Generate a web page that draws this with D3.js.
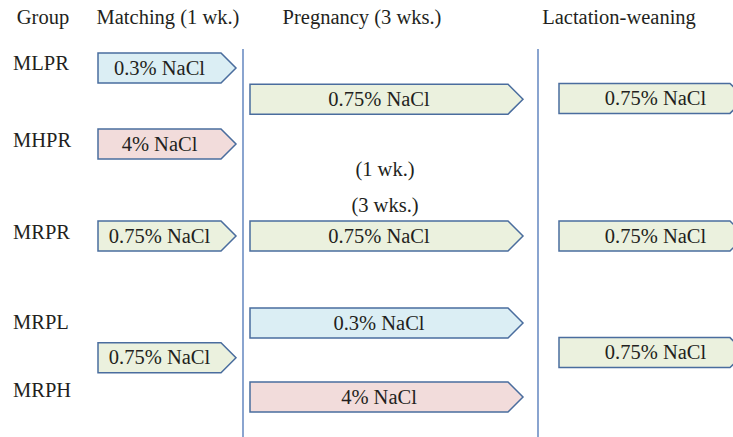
<!DOCTYPE html>
<html>
<head>
<meta charset="utf-8">
<script src="https://cdn.jsdelivr.net/npm/d3@7"></script>
<style>
  body { margin: 0; background: #fff; }
</style>
</head>
<body>
<svg width="733" height="437"></svg>
<script>
// groups and phase headers
var groups = ["MLPR", "MHPR", "MRPR", "MRPL", "MRPH"];
var headers = ["Group", "Matching (1 wk.)", "Pregnancy (3 wks.)", "Lactation-weaning"];

// NaCl (%) given in each phase, and which groups share that arrow
var matchingNaCl = [0.3, 4, 0.75, 0.75];
var matchingRows = [["MLPR"], ["MHPR"], ["MRPR"], ["MRPL", "MRPH"]];
var pregnancyNaCl = [0.75, 0.75, 0.3, 4];
var pregnancyRows = [["MLPR", "MHPR"], ["MRPR"], ["MRPL"], ["MRPH"]];
var lactationNaCl = [0.75, 0.75, 0.75];
var lactationRows = [["MLPR", "MHPR"], ["MRPR"], ["MRPL", "MRPH"]];

var durationNotes = ["(1 wk.)", "(3 wks.)"];

var svg = d3.select("svg")
    .attr("font-family", "'Liberation Serif', 'Times New Roman', serif")
    .attr("font-size", 20.5)
    .attr("fill", "#231f20"),
  width = +svg.attr("width"),
  height = +svg.attr("height");

// layout
var y = d3.scaleOrdinal().domain(groups).range([68, 144, 236, 323, 397]);
var color = d3.scaleOrdinal().domain([0.3, 0.75, 4]).range(["#dbeef4", "#ebf1de", "#f2dcdb"]);

var cols = [
  {name: "Matching", x0: 98, x1: 221, textDx: 0, frac: 0.47, naCl: matchingNaCl, rows: matchingRows},
  {name: "Pregnancy", x0: 250, x1: 508, textDx: 0, frac: 0.41, naCl: pregnancyNaCl, rows: pregnancyRows},
  {name: "Lactation", x0: 559, x1: 730, textDx: 11, frac: 0.4, naCl: lactationNaCl, rows: lactationRows}
];
var tip = 15, half = 15;

var arrows = [];
cols.forEach(function(c) {
  c.naCl.forEach(function(v, i) {
    var r = c.rows[i];
    var a = y(r[0]), b = y(r[r.length - 1]);
    arrows.push({col: c, value: v, cy: r.length > 1 ? a + (b - a) * c.frac : a});
  });
});

// headers
var headerX = [43, 168, 362, 619];
svg.selectAll(".header")
  .data(headers)
  .enter().append("text")
  .attr("class", "header")
  .attr("x", function(d, i) { return headerX[i]; })
  .attr("y", 24)
  .attr("text-anchor", "middle")
  .text(function(d) { return d; });

// phase dividers
svg.selectAll(".divider")
  .data([243, 538])
  .enter().append("line")
  .attr("class", "divider")
  .attr("x1", function(d) { return d; })
  .attr("x2", function(d) { return d; })
  .attr("y1", 49)
  .attr("y2", height)
  .attr("stroke", "#6d8ec4")
  .attr("stroke-width", 1.6);

// group labels
var labelDy = [2, 3, 3, 6, 0];
svg.selectAll(".group")
  .data(groups)
  .enter().append("text")
  .attr("class", "group")
  .attr("x", 13)
  .attr("y", function(d, i) { return y(d) + labelDy[i]; })
  .text(function(d) { return d; });

// arrows
var arrow = svg.selectAll(".arrow")
  .data(arrows)
  .enter().append("g")
  .attr("class", "arrow");

arrow.append("path")
  .attr("d", function(d) {
    var c = d.col;
    return "M" + c.x0 + "," + (d.cy - half)
      + "H" + c.x1
      + "L" + (c.x1 + tip) + "," + d.cy
      + "L" + c.x1 + "," + (d.cy + half)
      + "H" + c.x0 + "Z";
  })
  .attr("fill", function(d) { return color(d.value); })
  .attr("stroke", "#4a6d9e")
  .attr("stroke-width", 1.5);

arrow.append("text")
  .attr("x", function(d) { return (d.col.x0 + d.col.x1) / 2 + d.col.textDx; })
  .attr("y", function(d) { return d.cy + 6.5; })
  .attr("text-anchor", "middle")
  .text(function(d) { return d.value + "% NaCl"; });

// duration notes above the MRPR pregnancy arrow
var preg = cols[1];
svg.selectAll(".note")
  .data(durationNotes)
  .enter().append("text")
  .attr("class", "note")
  .attr("x", (preg.x0 + preg.x1) / 2 + 6)
  .attr("y", function(d, i) { return y("MRPR") + (i ? -24 : -60); })
  .attr("text-anchor", "middle")
  .text(function(d) { return d; });
</script>
</body>
</html>
